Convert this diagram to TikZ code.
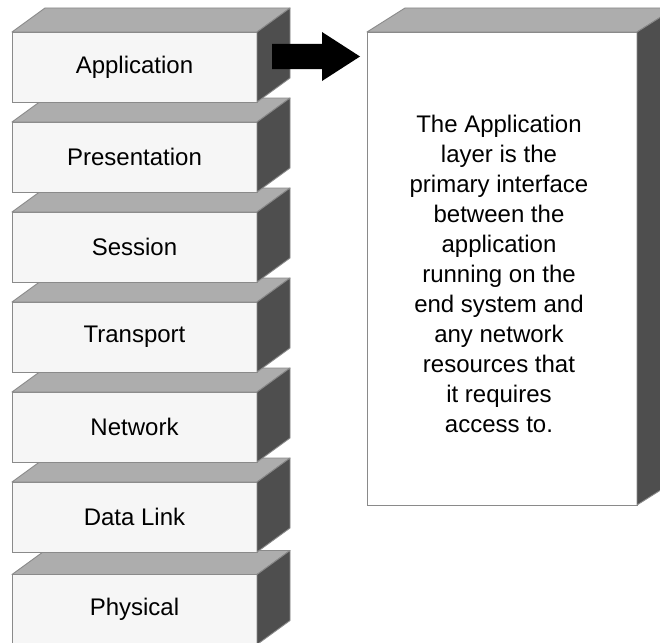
\documentclass[tikz,border=0pt]{standalone}
\usepackage{fontspec}
\setmainfont{Liberation Sans}
\usetikzlibrary{calc}
\definecolor{edgegray}{HTML}{8A8A8A}
\definecolor{frontgray}{HTML}{F6F6F6}
\definecolor{topgray}{HTML}{ADADAD}
\definecolor{sidegray}{HTML}{4E4E4E}
\tikzset{
  facefront/.style={draw=edgegray, fill=frontgray, line width=0.9pt, inner sep=0pt, outer sep=0pt,
    minimum width=245pt, minimum height=70pt, font=\fontsize{24}{30}\selectfont},
  facetop/.style={draw=edgegray, fill=topgray, line width=0.9pt, line join=round},
  faceside/.style={draw=edgegray, fill=sidegray, line width=0.9pt, line join=round},
  bodytext/.style={align=center, inner sep=0pt, font=\fontsize{24}{30}\selectfont},
}
% one layer slab of the stack: front face with its label, top face and right side
\newcommand\osilayer[3]{%
  \node[facefront] (#1) at (134.5,#2) {#3};
  \draw[facetop] (#1.north west) -- (#1.north east) -- ++(33,-24) -- ++(-245,0) -- cycle;
  \draw[faceside] (#1.north east) -- (#1.south east) -- ++(33,-24) |- ($(#1.north east)+(33,-24)$) -- cycle;
}
\begin{document}
\begin{tikzpicture}[x=1pt,y=-1pt]
  \useasboundingbox (0,0) rectangle (660,642);
  \clip (0,0) rectangle (660,642);
  % stack drawn from the bottom up so each slab hides the top of the one below
  \osilayer{phys}{609.5}{Physical}
  \osilayer{link}{517}{Data Link}
  \osilayer{net}{427}{Network}
  \osilayer{trans}{337}{Transport}
  \osilayer{sess}{247}{Session}
  \osilayer{pres}{157}{Presentation}
  \osilayer{app}{67}{Application}
  % description panel
  \node[facefront, fill=white, minimum width=270pt, minimum height=473pt] (desc) at (502,268.5) {};
  \draw[facetop] (desc.north west) -- (desc.north east) -- ++(38,-24) -- ++(-270,0) -- cycle;
  \draw[faceside] (desc.north east) -- (desc.south east) -- ++(38,-24) |- ($(desc.north east)+(38,-24)$) -- cycle;
  \node[bodytext] (desctext) at (499,274) {The Application\\layer is the\\primary interface\\between the\\application\\running on the\\end system and\\any network\\resources that\\it requires\\access to.};
  % block arrow from the Application layer to its description
  \coordinate (arrowtail) at ($(app.east)+(15,-10.5)$);
  \coordinate (arrowtip) at ($(desc.west)+(-7,-212)$);
  \fill[black] ($(arrowtail)+(0,-12.5)$) -- ($(arrowtip)+(-38,-12.5)$) -- ($(arrowtip)+(-38,-24.5)$)
    -- (arrowtip) -- ($(arrowtip)+(-38,24.5)$) -- ($(arrowtip)+(-38,12.5)$)
    -- ($(arrowtail)+(0,12.5)$) -- cycle;
\end{tikzpicture}
\end{document}
